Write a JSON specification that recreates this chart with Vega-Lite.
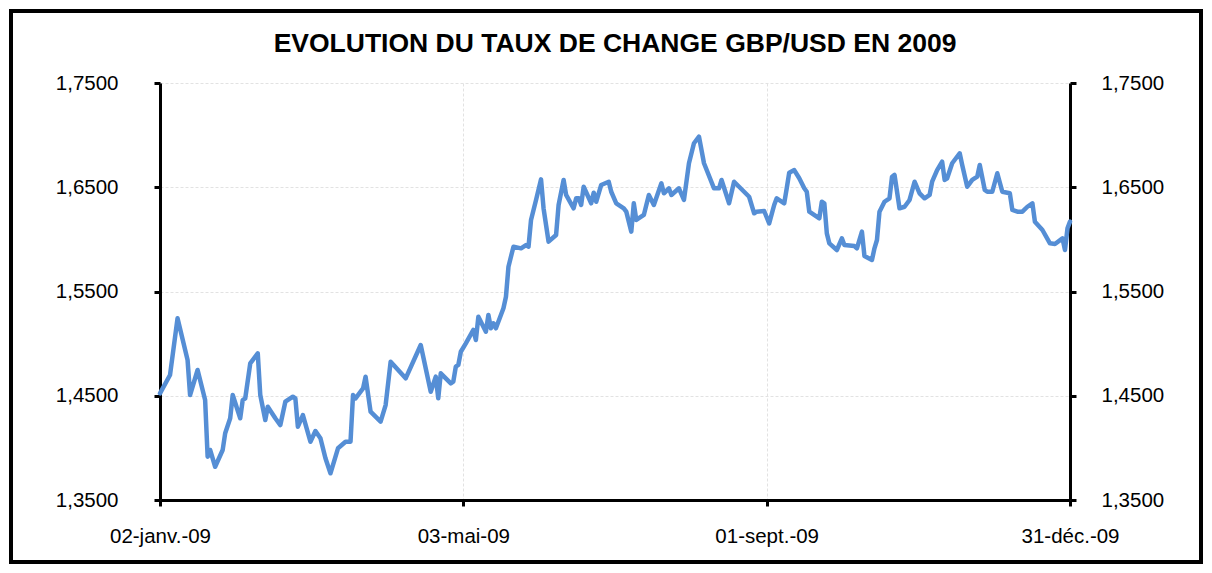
{
  "$schema": "https://vega.github.io/schema/vega-lite/v6.json",
  "autosize": {"type": "none"},
  "padding": {"left": 160, "top": 83, "right": 142, "bottom": 73},
  "width": 910,
  "height": 417,
  "background": "white",
  "config": {
    "view": {"stroke": null},
    "font": "Liberation Sans"
  },
  "title": {
    "text": "EVOLUTION DU TAUX DE CHANGE GBP/USD EN 2009",
    "font": "Liberation Sans",
    "fontSize": 26.5,
    "fontWeight": "bold",
    "color": "black",
    "anchor": "middle",
    "baseline": "alphabetic",
    "offset": -69
  },
  "data": {
    "values": [
      {"date": "2009-01-02", "rate": 1.4523},
      {"date": "2009-01-06", "rate": 1.4699},
      {"date": "2009-01-09", "rate": 1.5243},
      {"date": "2009-01-13", "rate": 1.4843},
      {"date": "2009-01-14", "rate": 1.4507},
      {"date": "2009-01-17", "rate": 1.4747},
      {"date": "2009-01-20", "rate": 1.4459},
      {"date": "2009-01-21", "rate": 1.3915},
      {"date": "2009-01-22", "rate": 1.3980},
      {"date": "2009-01-24", "rate": 1.3819},
      {"date": "2009-01-27", "rate": 1.3980},
      {"date": "2009-01-28", "rate": 1.4140},
      {"date": "2009-01-30", "rate": 1.4284},
      {"date": "2009-01-31", "rate": 1.4507},
      {"date": "2009-02-03", "rate": 1.4284},
      {"date": "2009-02-04", "rate": 1.4459},
      {"date": "2009-02-05", "rate": 1.4475},
      {"date": "2009-02-07", "rate": 1.4811},
      {"date": "2009-02-10", "rate": 1.4907},
      {"date": "2009-02-11", "rate": 1.4507},
      {"date": "2009-02-13", "rate": 1.4267},
      {"date": "2009-02-14", "rate": 1.4395},
      {"date": "2009-02-17", "rate": 1.4284},
      {"date": "2009-02-19", "rate": 1.4219},
      {"date": "2009-02-21", "rate": 1.4443},
      {"date": "2009-02-24", "rate": 1.4491},
      {"date": "2009-02-25", "rate": 1.4475},
      {"date": "2009-02-26", "rate": 1.4203},
      {"date": "2009-02-28", "rate": 1.4315},
      {"date": "2009-03-03", "rate": 1.4059},
      {"date": "2009-03-05", "rate": 1.4162},
      {"date": "2009-03-07", "rate": 1.4092},
      {"date": "2009-03-09", "rate": 1.3900},
      {"date": "2009-03-11", "rate": 1.3756},
      {"date": "2009-03-14", "rate": 1.3996},
      {"date": "2009-03-17", "rate": 1.4059},
      {"date": "2009-03-19", "rate": 1.4059},
      {"date": "2009-03-20", "rate": 1.4507},
      {"date": "2009-03-21", "rate": 1.4475},
      {"date": "2009-03-24", "rate": 1.4571},
      {"date": "2009-03-25", "rate": 1.4683},
      {"date": "2009-03-27", "rate": 1.4347},
      {"date": "2009-03-31", "rate": 1.4251},
      {"date": "2009-04-02", "rate": 1.4411},
      {"date": "2009-04-04", "rate": 1.4827},
      {"date": "2009-04-10", "rate": 1.4667},
      {"date": "2009-04-16", "rate": 1.4987},
      {"date": "2009-04-20", "rate": 1.4539},
      {"date": "2009-04-22", "rate": 1.4683},
      {"date": "2009-04-23", "rate": 1.4475},
      {"date": "2009-04-24", "rate": 1.4715},
      {"date": "2009-04-28", "rate": 1.4619},
      {"date": "2009-04-29", "rate": 1.4635},
      {"date": "2009-04-30", "rate": 1.4779},
      {"date": "2009-05-01", "rate": 1.4795},
      {"date": "2009-05-02", "rate": 1.4922},
      {"date": "2009-05-04", "rate": 1.5003},
      {"date": "2009-05-07", "rate": 1.5131},
      {"date": "2009-05-08", "rate": 1.5035},
      {"date": "2009-05-09", "rate": 1.5258},
      {"date": "2009-05-12", "rate": 1.5114},
      {"date": "2009-05-13", "rate": 1.5275},
      {"date": "2009-05-14", "rate": 1.5147},
      {"date": "2009-05-15", "rate": 1.5195},
      {"date": "2009-05-16", "rate": 1.5147},
      {"date": "2009-05-19", "rate": 1.5339},
      {"date": "2009-05-20", "rate": 1.5450},
      {"date": "2009-05-21", "rate": 1.5738},
      {"date": "2009-05-23", "rate": 1.5930},
      {"date": "2009-05-26", "rate": 1.5914},
      {"date": "2009-05-28", "rate": 1.5946},
      {"date": "2009-05-29", "rate": 1.5930},
      {"date": "2009-05-30", "rate": 1.6186},
      {"date": "2009-06-01", "rate": 1.6378},
      {"date": "2009-06-03", "rate": 1.6576},
      {"date": "2009-06-04", "rate": 1.6298},
      {"date": "2009-06-06", "rate": 1.5978},
      {"date": "2009-06-09", "rate": 1.6042},
      {"date": "2009-06-10", "rate": 1.6330},
      {"date": "2009-06-12", "rate": 1.6570},
      {"date": "2009-06-13", "rate": 1.6426},
      {"date": "2009-06-16", "rate": 1.6298},
      {"date": "2009-06-17", "rate": 1.6394},
      {"date": "2009-06-18", "rate": 1.6394},
      {"date": "2009-06-19", "rate": 1.6330},
      {"date": "2009-06-20", "rate": 1.6505},
      {"date": "2009-06-23", "rate": 1.6346},
      {"date": "2009-06-24", "rate": 1.6448},
      {"date": "2009-06-25", "rate": 1.6361},
      {"date": "2009-06-27", "rate": 1.6522},
      {"date": "2009-06-30", "rate": 1.6553},
      {"date": "2009-07-01", "rate": 1.6457},
      {"date": "2009-07-03", "rate": 1.6346},
      {"date": "2009-07-06", "rate": 1.6298},
      {"date": "2009-07-07", "rate": 1.6266},
      {"date": "2009-07-09", "rate": 1.6074},
      {"date": "2009-07-10", "rate": 1.6346},
      {"date": "2009-07-11", "rate": 1.6186},
      {"date": "2009-07-14", "rate": 1.6234},
      {"date": "2009-07-16", "rate": 1.6426},
      {"date": "2009-07-18", "rate": 1.6330},
      {"date": "2009-07-21", "rate": 1.6538},
      {"date": "2009-07-22", "rate": 1.6442},
      {"date": "2009-07-24", "rate": 1.6490},
      {"date": "2009-07-25", "rate": 1.6426},
      {"date": "2009-07-28", "rate": 1.6490},
      {"date": "2009-07-30", "rate": 1.6378},
      {"date": "2009-08-01", "rate": 1.6730},
      {"date": "2009-08-03", "rate": 1.6922},
      {"date": "2009-08-05", "rate": 1.6985},
      {"date": "2009-08-07", "rate": 1.6730},
      {"date": "2009-08-11", "rate": 1.6490},
      {"date": "2009-08-13", "rate": 1.6490},
      {"date": "2009-08-14", "rate": 1.6570},
      {"date": "2009-08-17", "rate": 1.6346},
      {"date": "2009-08-19", "rate": 1.6553},
      {"date": "2009-08-21", "rate": 1.6505},
      {"date": "2009-08-25", "rate": 1.6409},
      {"date": "2009-08-27", "rate": 1.6250},
      {"date": "2009-08-28", "rate": 1.6266},
      {"date": "2009-08-31", "rate": 1.6272},
      {"date": "2009-09-02", "rate": 1.6154},
      {"date": "2009-09-04", "rate": 1.6330},
      {"date": "2009-09-05", "rate": 1.6394},
      {"date": "2009-09-08", "rate": 1.6346},
      {"date": "2009-09-09", "rate": 1.6490},
      {"date": "2009-09-10", "rate": 1.6640},
      {"date": "2009-09-12", "rate": 1.6665},
      {"date": "2009-09-14", "rate": 1.6586},
      {"date": "2009-09-16", "rate": 1.6490},
      {"date": "2009-09-17", "rate": 1.6457},
      {"date": "2009-09-18", "rate": 1.6266},
      {"date": "2009-09-22", "rate": 1.6202},
      {"date": "2009-09-23", "rate": 1.6361},
      {"date": "2009-09-24", "rate": 1.6346},
      {"date": "2009-09-25", "rate": 1.6058},
      {"date": "2009-09-26", "rate": 1.5962},
      {"date": "2009-09-29", "rate": 1.5898},
      {"date": "2009-10-01", "rate": 1.6010},
      {"date": "2009-10-02", "rate": 1.5946},
      {"date": "2009-10-06", "rate": 1.5936},
      {"date": "2009-10-07", "rate": 1.5914},
      {"date": "2009-10-09", "rate": 1.6074},
      {"date": "2009-10-10", "rate": 1.5841},
      {"date": "2009-10-13", "rate": 1.5802},
      {"date": "2009-10-14", "rate": 1.5914},
      {"date": "2009-10-15", "rate": 1.5994},
      {"date": "2009-10-16", "rate": 1.6266},
      {"date": "2009-10-18", "rate": 1.6361},
      {"date": "2009-10-20", "rate": 1.6394},
      {"date": "2009-10-21", "rate": 1.6601},
      {"date": "2009-10-22", "rate": 1.6618},
      {"date": "2009-10-24", "rate": 1.6298},
      {"date": "2009-10-26", "rate": 1.6313},
      {"date": "2009-10-28", "rate": 1.6378},
      {"date": "2009-10-30", "rate": 1.6553},
      {"date": "2009-11-01", "rate": 1.6442},
      {"date": "2009-11-03", "rate": 1.6394},
      {"date": "2009-11-05", "rate": 1.6426},
      {"date": "2009-11-06", "rate": 1.6553},
      {"date": "2009-11-08", "rate": 1.6665},
      {"date": "2009-11-10", "rate": 1.6745},
      {"date": "2009-11-11", "rate": 1.6570},
      {"date": "2009-11-12", "rate": 1.6586},
      {"date": "2009-11-14", "rate": 1.6730},
      {"date": "2009-11-17", "rate": 1.6826},
      {"date": "2009-11-18", "rate": 1.6713},
      {"date": "2009-11-20", "rate": 1.6505},
      {"date": "2009-11-22", "rate": 1.6570},
      {"date": "2009-11-24", "rate": 1.6601},
      {"date": "2009-11-25", "rate": 1.6713},
      {"date": "2009-11-27", "rate": 1.6474},
      {"date": "2009-11-28", "rate": 1.6457},
      {"date": "2009-11-30", "rate": 1.6457},
      {"date": "2009-12-02", "rate": 1.6634},
      {"date": "2009-12-04", "rate": 1.6457},
      {"date": "2009-12-07", "rate": 1.6442},
      {"date": "2009-12-08", "rate": 1.6282},
      {"date": "2009-12-10", "rate": 1.6266},
      {"date": "2009-12-12", "rate": 1.6266},
      {"date": "2009-12-14", "rate": 1.6313},
      {"date": "2009-12-16", "rate": 1.6346},
      {"date": "2009-12-17", "rate": 1.6170},
      {"date": "2009-12-20", "rate": 1.6090},
      {"date": "2009-12-23", "rate": 1.5962},
      {"date": "2009-12-25", "rate": 1.5956},
      {"date": "2009-12-28", "rate": 1.6010},
      {"date": "2009-12-29", "rate": 1.5898},
      {"date": "2009-12-30", "rate": 1.6106},
      {"date": "2009-12-31", "rate": 1.6170}
    ]
  },
  "layer": [
    {
      "mark": {"type": "line", "color": "#558ed5", "strokeWidth": 4.5, "strokeJoin": "round", "strokeCap": "round", "clip": false},
      "encoding": {
        "x": {
          "field": "date",
          "type": "temporal",
          "scale": {
            "type": "utc",
            "domain": [1230854400000, 1262217600000],
            "nice": false
          },
          "axis": {
            "orient": "bottom",
            "title": null,
            "values": [1230854400000, 1241308800000, 1251763200000, 1262217600000],
            "labelExpr": "utcFormat(datum.value, '%d') + '-' + ['janv.','févr.','mars','avr.','mai','juin','juil.','août','sept.','oct.','nov.','déc.'][utcmonth(datum.value)] + '-' + utcFormat(datum.value, '%y')",
            "labelFont": "Liberation Sans",
            "labelFontSize": 20.5,
            "labelColor": "black",
            "labelPadding": 20,
            "labelFlush": false,
            "labelOverlap": false,
            "domainColor": "black",
            "domainWidth": 3,
            "tickColor": "black",
            "tickWidth": 3,
            "tickSize": 6,
            "grid": true,
            "gridColor": "#e2e2e2",
            "gridWidth": 1,
            "gridDash": [3, 2]
          }
        },
        "y": {
          "field": "rate",
          "type": "quantitative",
          "scale": {"domain": [1.35, 1.75], "nice": false, "zero": false},
          "axis": {
            "orient": "left",
            "title": null,
            "values": [1.35, 1.45, 1.55, 1.65, 1.75],
            "labelExpr": "replace(format(datum.value, '.4f'), '.', ',')",
            "labelFont": "Liberation Sans",
            "labelFontSize": 20.5,
            "labelColor": "black",
            "labelPadding": 36,
            "labelFlush": false,
            "domainColor": "black",
            "domainWidth": 3,
            "tickColor": "black",
            "tickWidth": 3,
            "tickSize": 6,
            "grid": true,
            "gridColor": "#e2e2e2",
            "gridWidth": 1,
            "gridDash": [3, 2]
          }
        }
      }
    },
    {
      "mark": {"type": "line", "opacity": 0},
      "encoding": {
        "x": {"field": "date", "type": "temporal"},
        "y": {
          "field": "rate",
          "type": "quantitative",
          "axis": {
            "orient": "right",
            "title": null,
            "values": [1.35, 1.45, 1.55, 1.65, 1.75],
            "labelExpr": "replace(format(datum.value, '.4f'), '.', ',')",
            "labelFont": "Liberation Sans",
            "labelFontSize": 20.5,
            "labelColor": "black",
            "labelPadding": 25,
            "labelFlush": false,
            "domainColor": "black",
            "domainWidth": 3,
            "tickColor": "black",
            "tickWidth": 3,
            "tickSize": 6,
            "grid": false
          }
        }
      }
    },
    {
      "mark": {"type": "rect", "filled": false, "stroke": "black", "strokeWidth": 2.5, "clip": false},
      "encoding": {
        "x": {"datum": 1225718784000, "type": "temporal"},
        "x2": {"datum": 1266732864000},
        "y": {"datum": 1.8191, "type": "quantitative", "axis": null},
        "y2": {"datum": 1.2905}
      }
    }
  ],
  "resolve": {"axis": {"y": "independent"}}
}
